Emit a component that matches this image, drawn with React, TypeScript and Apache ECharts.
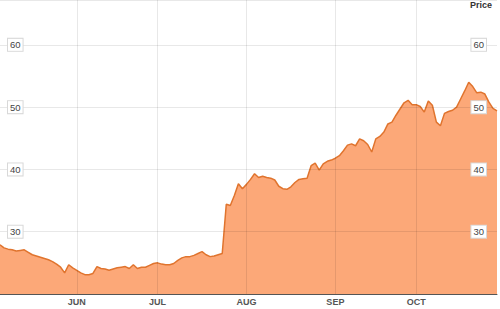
import React, { useEffect, useRef } from "react";
import * as echarts from "echarts";

// Trading-day range (2013) and market holidays in that range
const startDate = "2013-05-06";
const endDate = "2013-10-29";
const holidays = ["2013-05-27", "2013-07-04", "2013-09-02"];

// Closing price per trading day
const prices = [
  27.9, 27.4, 27.2, 27.1, 26.9, 27.0, 27.1, 26.7, 26.3, 26.1,
  25.9, 25.7, 25.5, 25.2, 24.8, 24.3, 23.4, 24.7, 24.2, 23.8,
  23.4, 23.1, 23.1, 23.3, 24.4, 24.1, 24.0, 23.8, 24.0, 24.2,
  24.3, 24.4, 24.1, 24.7, 24.1, 24.3, 24.3, 24.6, 24.9, 25.0,
  24.8, 24.7, 24.7, 24.9, 25.4, 25.8, 26.0, 26.0, 26.2, 26.5,
  26.8, 26.3, 26.0, 26.1, 26.3, 26.5, 34.4, 34.2, 35.8, 37.7,
  36.9, 37.6, 38.4, 39.3, 38.7, 38.9, 38.7, 38.6, 38.3, 37.3,
  36.9, 36.8, 37.2, 37.9, 38.4, 38.5, 38.6, 40.6, 41.0, 39.9,
  40.9, 41.3, 41.5, 41.8, 42.2, 43.0, 43.9, 44.1, 43.8, 44.9,
  44.6, 44.0, 42.8, 44.9, 45.3, 46.0, 47.3, 47.6, 48.7, 49.7,
  50.7, 51.1, 50.4, 50.4, 50.1, 49.2, 51.0, 50.3, 47.6, 47.0,
  49.0, 49.3, 49.5, 50.0, 51.3, 52.6, 54.0, 53.3, 52.3, 52.4,
  52.1, 50.8, 49.8, 49.4,
];

const monthNames = ["JAN", "FEB", "MAR", "APR", "MAY", "JUN", "JUL", "AUG", "SEP", "OCT", "NOV", "DEC"];
const yTicks = [30, 40, 50, 60];
const yMin = 20;
const yMax = 67.2;
const axisTitle = "Price";

function buildDates(): string[] {
  const out: string[] = [];
  const d = new Date(startDate + "T00:00:00Z");
  const end = new Date(endDate + "T00:00:00Z");
  while (d <= end) {
    const iso = d.toISOString().slice(0, 10);
    const wd = d.getUTCDay();
    if (wd !== 0 && wd !== 6 && !holidays.includes(iso)) out.push(iso);
    d.setUTCDate(d.getUTCDate() + 1);
  }
  return out;
}

export default function App() {
  const ref = useRef<HTMLDivElement>(null);
  useEffect(() => {
    document.body.style.margin = "0";
    if (!ref.current) return;
    const chart = echarts.init(ref.current, null, { renderer: "svg" });
    const dates = buildDates();
    const monthStart = new Set<number>();
    dates.forEach((d, i) => {
      if (i > 0 && d.slice(5, 7) !== dates[i - 1].slice(5, 7)) monthStart.add(i);
    });
    const isMonthStart = (i: number) => monthStart.has(i);
    const font = "'Liberation Sans', Arial, sans-serif";
    const gridColor = "rgba(0,0,0,0.09)";
    const yLabel = (margin: number) => ({
      inside: true,
      margin,
      fontSize: 9.5,
      fontFamily: font,
      color: "#444",
      backgroundColor: "#fff",
      borderColor: "#d8d8d8",
      borderWidth: 1,
      padding: [1, 2, 1, 2],
      showMinLabel: false,
      showMaxLabel: false,
      formatter: (v: number) => (yTicks.includes(v) ? String(v) : ""),
    });
    chart.setOption({
      animation: false,
      grid: { left: 0, right: 3, top: 0, bottom: 15, containLabel: false, outerBoundsMode: "none" },
      xAxis: {
        type: "category",
        data: dates,
        boundaryGap: false,
        z: 5,
        axisLine: { show: true, lineStyle: { color: "#555", width: 1 } },
        axisTick: { show: false },
        axisLabel: {
          interval: (i: number) => isMonthStart(i),
          formatter: (v: string) => monthNames[parseInt(v.slice(5, 7), 10) - 1],
          fontSize: 9,
          fontWeight: "bold",
          fontFamily: font,
          color: "#555",
          margin: 3,
        },
        splitLine: {
          show: true,
          interval: (i: number) => isMonthStart(i),
          lineStyle: { color: gridColor, width: 1 },
        },
      },
      yAxis: [
        {
          type: "value",
          position: "left",
          min: yMin,
          max: yMax,
          interval: 10,
          z: 5,
          axisLine: { show: false },
          axisTick: { show: false },
          axisLabel: yLabel(8),
          splitLine: { show: true, lineStyle: { color: gridColor, width: 1 } },
        },
        {
          type: "value",
          position: "right",
          min: yMin,
          max: yMax,
          interval: 10,
          z: 5,
          axisLine: { show: false },
          axisTick: { show: false },
          axisLabel: yLabel(11),
          splitLine: { show: false },
        },
      ],
      graphic: [
        {
          type: "text",
          right: 8,
          top: 0,
          z: 10,
          style: { text: axisTitle, fontSize: 9, fontWeight: "bold", fontFamily: font, fill: "#333" },
        },
      ],
      series: [
        {
          type: "line",
          data: prices,
          yAxisIndex: 0,
          symbol: "none",
          lineStyle: { color: "#E0742E", width: 1.5 },
          areaStyle: { color: "#FCA878", opacity: 1 },
          z: 1,
        },
      ],
    });
    return () => chart.dispose();
  }, []);
  return <div ref={ref} style={{ width: 500, height: 309, position: "absolute", left: 0, top: 0 }} />;
}
